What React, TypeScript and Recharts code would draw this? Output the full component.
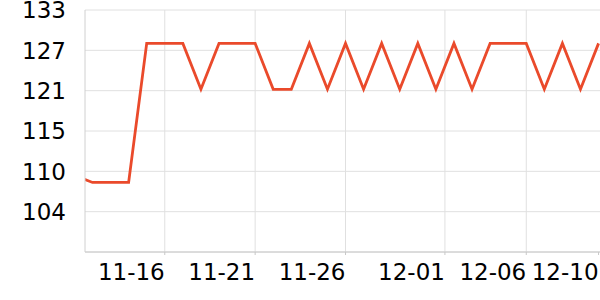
import React from 'react';
import { LineChart, Line, XAxis, YAxis, CartesianGrid } from 'recharts';

const dates = [
  '11-11', '11-12', '11-13', '11-14', '11-15', '11-16', '11-17', '11-18', '11-19', '11-20',
  '11-21', '11-22', '11-23', '11-24', '11-25', '11-26', '11-27', '11-28', '11-29', '11-30',
  '12-01', '12-02', '12-03', '12-04', '12-05', '12-06', '12-07', '12-08', '12-09', '12-10',
];
const values = [
  109, 108, 108, 108, 128, 128, 128, 121.4, 128, 128,
  128, 121.4, 121.4, 128, 121.4, 128, 121.4, 128, 121.4, 128,
  121.4, 128, 121.4, 128, 128, 128, 121.4, 128, 121.4, 128,
];
const xTickIndex = [5, 10, 15, 20.5, 25, 29];
const xTickLabels = ['11-16', '11-21', '11-26', '12-01', '12-06', '12-10'];
const xGridIndex = [5, 10, 15, 20.5, 25];
const yTicks = [98, 103.8, 109.6, 115.4, 121.2, 127, 132.8];
const yTickLabels = ['', '104', '110', '115', '121', '127', '133'];

const data = dates.map((d, i) => ({ idx: i, date: d, value: values[i] }));

const FONT = '"DejaVu Sans", sans-serif';

const XTick = (props: any) => {
  const { x, y, payload } = props;
  const i = xTickIndex.indexOf(payload.value);
  return (
    <text x={x} y={y + 25} textAnchor="end" fontSize={23} fontFamily={FONT} fill="#000">
      {xTickLabels[i]}
    </text>
  );
};

const YTick = (props: any) => {
  const { x, y, payload } = props;
  const i = yTicks.indexOf(payload.value);
  return (
    <text x={x - 19} y={y} dy="0.36em" textAnchor="end" fontSize={23} fontFamily={FONT} fill="#000">
      {yTickLabels[i]}
    </text>
  );
};

export default function App() {
  return (
    <div style={{ position: 'absolute', left: 0, top: 0, width: 600, height: 300 }}>
      <LineChart width={600} height={300} data={data} margin={{ top: 10, right: 0, left: 0, bottom: 0 }}>
        <CartesianGrid stroke="#e0e0e0" strokeWidth={1} verticalValues={xGridIndex} />
        <XAxis
          dataKey="idx"
          type="number"
          domain={[0.586, 29.08]}
          allowDataOverflow
          ticks={xTickIndex}
          interval={0}
          height={48}
          tickSize={3}
          tickMargin={0}
          tickLine={{ stroke: '#c8c8c8' }}
          axisLine={{ stroke: '#c8c8c8' }}
          tick={<XTick />}
        />
        <YAxis
          type="number"
          domain={[98, 132.8]}
          ticks={yTicks}
          interval={0}
          width={85}
          tickSize={0}
          tickMargin={0}
          tickLine={false}
          axisLine={{ stroke: '#d0d0d0' }}
          tick={<YTick />}
        />
        <Line
          type="linear"
          dataKey="value"
          stroke="#ea4a2b"
          strokeWidth={2.8}
          dot={false}
          isAnimationActive={false}
        />
      </LineChart>
    </div>
  );
}
